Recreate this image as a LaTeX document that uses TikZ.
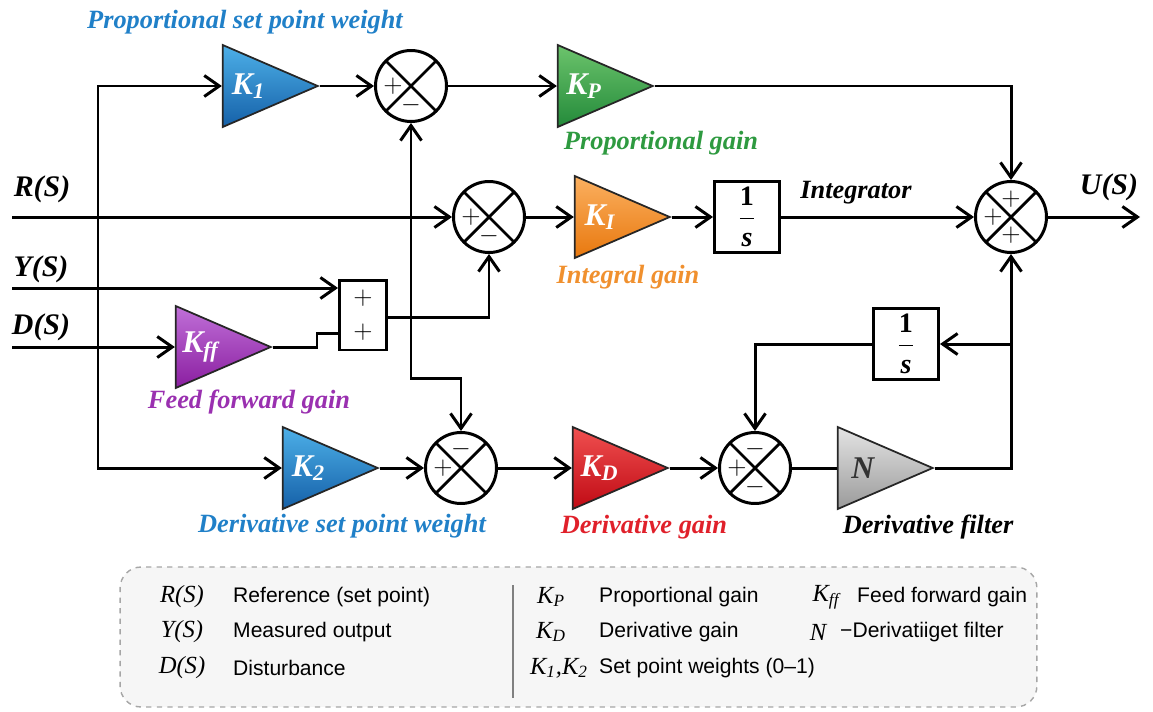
\documentclass[tikz,border=0pt]{standalone}
\usepackage{amsmath}
\usepackage{fontspec}
\setmainfont{Liberation Serif}
\newfontfamily\legfont{Liberation Sans}
\usetikzlibrary{arrows.meta, shapes.geometric}

\definecolor{blueTop}{HTML}{4DB0E8}
\definecolor{blueBot}{HTML}{1560A8}
\definecolor{greenTop}{HTML}{6CC46C}
\definecolor{greenBot}{HTML}{238A3A}
\definecolor{orangeTop}{HTML}{FBB060}
\definecolor{orangeBot}{HTML}{E8780E}
\definecolor{purpleTop}{HTML}{C070D8}
\definecolor{purpleBot}{HTML}{8A1EA0}
\definecolor{redTop}{HTML}{F05050}
\definecolor{redBot}{HTML}{C00A14}
\definecolor{grayTop}{HTML}{E4E4E4}
\definecolor{grayBot}{HTML}{9A9A9A}
\definecolor{lblBlue}{HTML}{2080C8}
\definecolor{lblGreen}{HTML}{2E9A40}
\definecolor{lblOrange}{HTML}{F0902E}
\definecolor{lblPurple}{HTML}{9A30B0}
\definecolor{lblRed}{HTML}{E0202A}

\newcommand{\gk}[2]{\textit{#1}\textsubscript{\textit{#2}}}
\newcommand{\sig}[1]{\textit{#1}(\textit{S})}

\begin{document}
\begin{tikzpicture}[x=0.02cm, y=-0.02cm,
  >={Straight Barb[length=3mm, width=4.2mm]},
  wire/.style={line width=1.7pt},
  gain/.style={isosceles triangle, isosceles triangle stretches, draw=black!85, line width=1pt,
    minimum width=1.64cm, minimum height=1.9cm, inner sep=0pt, anchor=apex,
    text=white, font=\bfseries\itshape\fontsize{18}{18}\selectfont},
  sumnode/.style={circle, draw, line width=1.7pt, minimum size=1.42cm,
    path picture={\draw[line width=1.6pt]
      (path picture bounding box.north west) -- (path picture bounding box.south east)
      (path picture bounding box.north east) -- (path picture bounding box.south west);}},
  blk/.style={draw, line width=1.7pt, minimum width=1.3cm, minimum height=1.42cm,
    font=\fontsize{16}{16}\selectfont},
  sgn/.style={inner sep=0pt, font=\Large},
  lbl/.style={font=\bfseries\itshape\fontsize{15}{15}\selectfont},
  siglbl/.style={font=\bfseries\itshape\fontsize{17}{17}\selectfont},
  legsym/.style={font=\itshape\fontsize{14}{14}\selectfont},
  legtxt/.style={anchor=west, font=\legfont\fontsize{12}{12}\selectfont}]
\useasboundingbox (0,0) rectangle (1153,711);

% gains and junctions
\node[gain, top color=blueTop, bottom color=blueBot] (k1) at (320,86) {\gk{K}{1}};
\node[sumnode] (s1) at (411,86) {};
\node[gain, top color=greenTop, bottom color=greenBot] (kp) at (655,86) {\gk{K}{P}};
\node[sumnode] (s2) at (489,217) {};
\node[gain, top color=orangeTop, bottom color=orangeBot] (ki) at (672,217) {\gk{K}{I}};
\node[blk] (i1) at (747,217) {$\dfrac{\textbf{1}}{\textbf{\textit{s}}}$};
\node[sumnode] (sout) at (1011,217) {};
\node[draw, line width=1.7pt, minimum width=0.94cm, minimum height=1.4cm] (pl) at (363,315) {};
\node[gain, top color=purpleTop, bottom color=purpleBot] (kff) at (273,347) {\gk{K}{ff}};
\node[blk] (i2) at (906,344) {$\dfrac{\textbf{1}}{\textbf{\textit{s}}}$};
\node[gain, top color=blueTop, bottom color=blueBot] (k2) at (380,468) {\gk{K}{2}};
\node[sumnode] (s3) at (461,468) {};
\node[gain, top color=redTop, bottom color=redBot] (kd) at (670,468) {\gk{K}{D}};
\node[sumnode] (s4) at (755,468) {};
\node[gain, top color=grayTop, bottom color=grayBot, text=black!80] (n) at (935,468) {N};

% signs
\node[sgn] (s1a) at ([xshift=-0.36cm]s1.center) {$+$};
\node[sgn] (s1b) at ([yshift=-0.38cm]s1.center) {$-$};
\node[sgn] (s2a) at ([xshift=-0.36cm]s2.center) {$+$};
\node[sgn] (s2b) at ([yshift=-0.38cm]s2.center) {$-$};
\node[sgn] (s3a) at ([yshift=0.38cm]s3.center) {$-$};
\node[sgn] (s3b) at ([xshift=-0.36cm]s3.center) {$+$};
\node[sgn] (s4a) at ([yshift=0.38cm]s4.center) {$-$};
\node[sgn] (s4b) at ([xshift=-0.36cm]s4.center) {$+$};
\node[sgn] (s4c) at ([yshift=-0.38cm]s4.center) {$-$};
\node[sgn] (soa) at ([yshift=0.36cm]sout.center) {$+$};
\node[sgn] (sob) at ([xshift=-0.36cm]sout.center) {$+$};
\node[sgn] (soc) at ([yshift=-0.36cm]sout.center) {$+$};
\node[sgn] (pla) at ([yshift=0.34cm]pl.center) {$+$};
\node[sgn] (plb) at ([yshift=-0.34cm]pl.center) {$+$};

% inputs and output
\coordinate (rin) at (12,217);
\coordinate (yin) at (12,288);
\coordinate (din) at (12,347);
\coordinate (uout) at (1140,217);
\coordinate (bus) at (98,217);
\coordinate (kink) at (317,333);
\coordinate (fb) at (413,378);
\coordinate (tap) at (1011,344);

% connectors
\draw[wire, ->] (rin) -- (s2.west);
\draw[wire, ->] (bus) |- (k1.lower side);
\draw[wire, ->] (bus) |- (k2.lower side);
\draw[wire, ->] (k1.apex) -- (s1.west);
\draw[wire, ->] (s1.east) -- (kp.lower side);
\draw[wire, ->] (kp.apex) -| (sout.north);
\draw[wire, ->] (s2.east) -- (ki.lower side);
\draw[wire, ->] (ki.apex) -- (i1.west);
\draw[wire, ->] (i1.east) -- (sout.west);
\draw[wire, ->] (sout.east) -- (uout);
\draw[wire, ->] (yin) -- (yin -| pl.west);
\draw[wire, ->] (din) -- (kff.lower side);
\draw[wire] (kff.apex) -| (kink) -- (kink -| pl.west);
\draw[wire, ->] ([yshift=-0.04cm]pl.east) -| (s2.south);
\draw[wire, <->] (s1.south) -- (s1.south |- fb) -| (s3.north);
\draw[wire, ->] (k2.apex) -- (s3.west);
\draw[wire, ->] (s3.east) -- (kd.lower side);
\draw[wire, ->] (kd.apex) -- (s4.west);
\draw[wire] (s4.east) -- (n.lower side);
\draw[wire, ->] (n.apex) -| (sout.south);
\draw[wire, ->] (tap) -- (i2.east);
\draw[wire, ->] (i2.west) -| (s4.north);

% labels
\node[siglbl] (lr) at (42,189) {\sig{R}};
\node[siglbl] (ly) at (41,269) {\sig{Y}};
\node[siglbl] (ld) at (41,327) {\sig{D}};
\node[siglbl] (lu) at (1109,187) {\sig{U}};
\node[lbl, text=lblBlue] (lk1) at (245,22) {Proportional set point weight};
\node[lbl, text=lblGreen] (lkp) at (661,143) {Proportional gain};
\node[lbl, text=lblOrange] (lki) at (628,277) {Integral gain};
\node[lbl] (lint) at (856,193) {Integrator};
\node[lbl, text=lblPurple] (lkff) at (249,402) {Feed forward gain};
\node[lbl, text=lblBlue] (lk2) at (342,526) {Derivative set point weight};
\node[lbl, text=lblRed] (lkd) at (644,527) {Derivative gain};
\node[lbl] (ln) at (928,527) {Derivative filter};

% legend
\node[draw=gray!70, dashed, fill=gray!7, rounded corners=12pt, line width=0.8pt,
  minimum width=18.34cm, minimum height=2.8cm] (legend) at (578.5,637) {};
\draw[gray, line width=0.8pt] (513,585) -- (513,698);
\node[legsym] (e1) at (182,597) {\sig{R}};
\node[legtxt] (t1) at (227,597) {Reference (set point)};
\node[legsym] (e2) at (182,632) {\sig{Y}};
\node[legtxt] (t2) at (227,632) {Measured output};
\node[legsym] (e3) at (182,668) {\sig{D}};
\node[legtxt] (t3) at (227,668) {Disturbance};
\node[legsym] (e4) at (551,597) {\gk{K}{P}};
\node[legtxt] (t4) at (593,597) {Proportional gain};
\node[legsym] (e5) at (551,632) {\gk{K}{D}};
\node[legtxt] (t5) at (593,632) {Derivative gain};
\node[legsym] (e6) at (559,668) {\gk{K}{1},\gk{K}{2}};
\node[legtxt] (t6) at (593,668) {Set point weights (0–1)};
\node[legsym] (e7) at (826,597) {\gk{K}{ff}};
\node[legtxt] (t7) at (851,597) {Feed forward gain};
\node[legsym] (e8) at (818,632) {N};
\node[legtxt] (t8) at (834,632) {−Derivatiiget filter};
\end{tikzpicture}
\end{document}
